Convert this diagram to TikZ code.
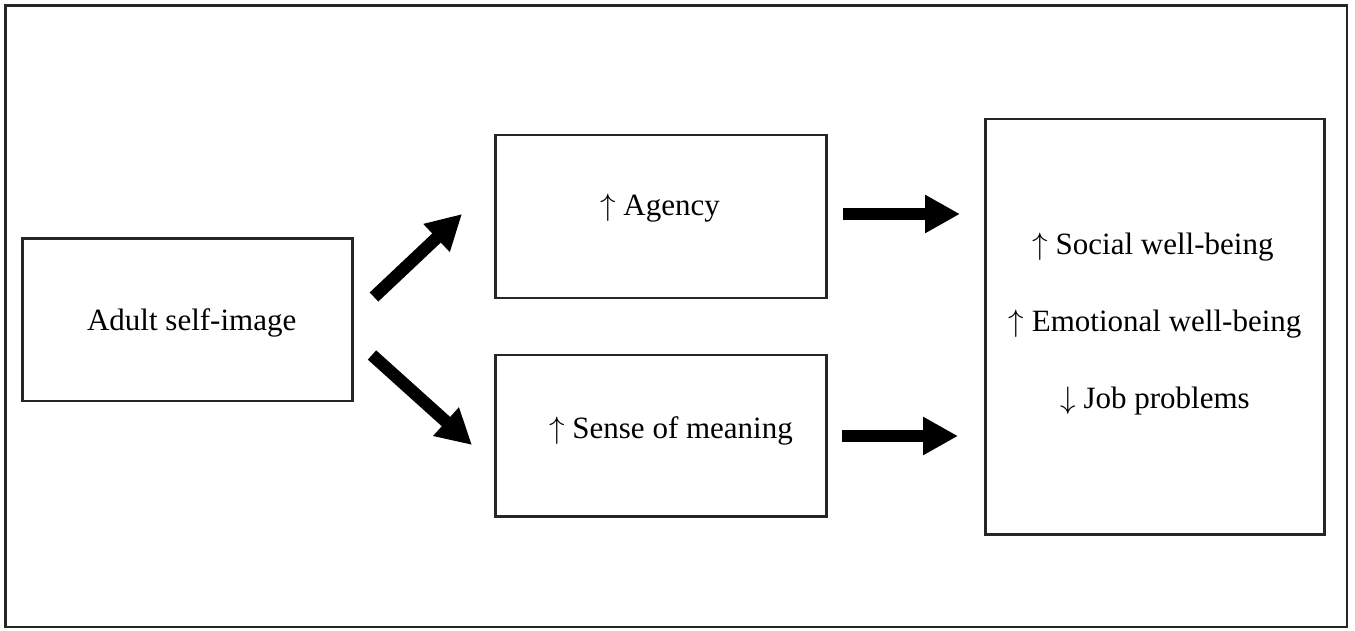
\RequirePackage{fix-cm}
\documentclass[tikz,border=0pt]{standalone}
\usepackage{fontspec}
\setmainfont{Liberation Serif}
\usetikzlibrary{arrows.meta}
\newcommand{\upar}{$\uparrow$}
\newcommand{\dnar}{$\downarrow$}
\begin{document}
\begin{tikzpicture}[x=1pt,y=-1pt,
  box/.style={draw=black!85,line width=2.6pt,inner sep=0pt,outer sep=0pt,anchor=north west},
  lbl/.style={font=\fontsize{31}{36}\selectfont,inner sep=0pt},
  fat/.style={line width=12.5pt,-{Triangle[length=35pt,width=36pt]}}]
\useasboundingbox (0,0) rectangle (1355,631);
\node[box,minimum width=1341.5pt,minimum height=621.5pt] (frame) at (5.5,5.5) {};
\node[box,minimum width=330pt,minimum height=162.5pt] (adult) at (22.7,238.3) {};
\node[box,minimum width=330.5pt,minimum height=163pt] (agency) at (495.7,135) {};
\node[box,minimum width=330.5pt,minimum height=161.5pt] (sense) at (495.7,355) {};
\node[box,minimum width=338.5pt,minimum height=415.5pt] (out) at (985.7,119) {};
\node[lbl] (tadult) at ([xshift=4pt,yshift=-3pt]adult.center) {Adult self-image};
\node[lbl] (tagency) at (660,208) {\upar\ Agency};
\node[lbl] (tsense) at (671,431) {\upar\ Sense of meaning};
\node[lbl] (tsocial) at (1153,247) {\upar\ Social well-being};
\node[lbl] (temo) at (1155,324) {\upar\ Emotional well-being};
\node[lbl] (tjob) at (1155,401) {\dnar\ Job problems};
\coordinate (a1) at (374,297);
\coordinate (a2) at (462,214);
\coordinate (b1) at (372,355);
\coordinate (b2) at (472,445);
\coordinate (c1) at (843,214);
\coordinate (c2) at (960,214);
\coordinate (d1) at (842,436);
\coordinate (d2) at (958,436);
\draw[fat] (a1) -- (a2);
\draw[fat] (b1) -- (b2);
\draw[fat] (c1) -- (c2);
\draw[fat] (d1) -- (d2);
\end{tikzpicture}
\end{document}
